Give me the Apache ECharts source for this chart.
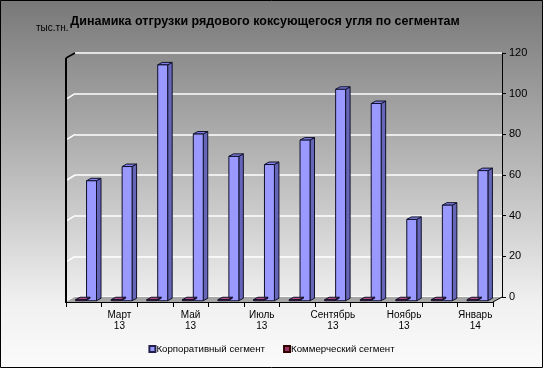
<!DOCTYPE html>
<html><head><meta charset="utf-8">
<script src="https://cdn.jsdelivr.net/npm/echarts@6/dist/echarts.min.js"></script>
<style>html,body{margin:0;padding:0;background:#fff}#c{width:543px;height:368px}</style>
</head><body><div id="c"></div>
<script>
const categories = ['Февраль 13','Март 13','Апрель 13','Май 13','Июнь 13','Июль 13','Август 13','Сентябрь 13','Октябрь 13','Ноябрь 13','Декабрь 13','Январь 14'];
const corporate = [59, 66, 116, 82, 71, 67, 79, 104, 97, 40, 47, 64];
const commercial = [0.5, 0.5, 0.5, 0.5, 0.5, 0.5, 0.5, 0.5, 0.5, 0.5, 0.5, 0.5];
const seriesNames = ['Корпоративный сегмент', 'Коммерческий сегмент'];
const yTicks = [0, 20, 40, 60, 80, 100, 120];

const W = 543, H = 368;
const BL = 75, BR = 502, BT = 53, BB = 297;   // back wall
const DX = 9, DY = -5;                        // back relative to front
const FL = BL - DX, FR = BR - DX, FT = BT - DY, FB = BB - DY;

function renderBar(side, cols) {
  return function (params, api) {
    const i = api.value(0), v = api.value(1);
    const pb = api.coord([i, 0]);
    const pt = api.coord([i, v]);
    const band = api.size([1, 0])[0];
    const w = band * 0.28;
    const sx = -DX * 0.75, sy = -DY * 0.75;
    const c = pb[0] + sx;
    let x1, x2;
    if (side < 0) { x2 = c - 0.5; x1 = x2 - w; } else { x1 = c + 0.5; x2 = x1 + w; }
    const yb = pb[1] + sy, yt = Math.min(pt[1] + sy, yb - 1);
    const ox = DX * 0.5, oy = DY * 0.5;
    const st = { stroke: '#10102a', lineWidth: 1 };
    return {
      type: 'group',
      children: [
        { type: 'polygon', shape: { points: [[x2, yt], [x2 + ox, yt + oy], [x2 + ox, yb + oy], [x2, yb]] },
          style: Object.assign({ fill: cols[1] }, st) },
        { type: 'polygon', shape: { points: [[x1, yt], [x1 + ox, yt + oy], [x2 + ox, yt + oy], [x2, yt]] },
          style: Object.assign({ fill: cols[2] }, st) },
        { type: 'rect', shape: { x: x1, y: yt, width: x2 - x1, height: yb - yt },
          style: Object.assign({ fill: cols[0] }, st) }
      ]
    };
  };
}

const graphics = [];
graphics.push({ type: 'rect', z: -100, shape: { x: 0, y: 0, width: W, height: H },
  style: { fill: { type: 'linear', x: 0, y: 0, x2: 0, y2: 1, colorStops: [
    { offset: 0, color: '#787878' }, { offset: 0.45, color: '#b8b8b8' }, { offset: 0.82, color: '#f0f0f0' }, { offset: 1, color: '#fbfbfb' }] } } });
// floor
graphics.push({ type: 'polygon', z: 1, shape: { points: [[BL, BB], [BR, BB], [FR, FB], [FL, FB]] },
  style: { fill: '#a6a6a6' } });
graphics.push({ type: 'line', z: 3, shape: { x1: BR, y1: BB, x2: FR, y2: FB }, style: { stroke: '#000', lineWidth: 1 } });
// left wall gridline diagonals
const yPix = v => BB - (BB - BT) * v / 120;
yTicks.forEach(v => {
  if (v === 0 || v === 120) return;
  graphics.push({ type: 'line', z: 1, shape: { x1: BL, y1: yPix(v), x2: FL + 1, y2: yPix(v) - DY },
    style: { stroke: '#ffffff', lineWidth: 1.5 } });
});
graphics.push({ type: 'line', z: 3, shape: { x1: FL, y1: FT, x2: FL, y2: FB + 1 }, style: { stroke: '#000', lineWidth: 2 } });
graphics.push({ type: 'line', z: 3, shape: { x1: FL, y1: FT, x2: BL, y2: BT }, style: { stroke: '#000', lineWidth: 1.5 } });
graphics.push({ type: 'text', z: 5, left: 36, top: 23, style: { text: 'тыс.тн.', fontSize: 10, fontFamily: 'Liberation Sans, Arial', fill: '#000' } });
graphics.push({ type: 'rect', z: 50, shape: { x: 0.5, y: 0.5, width: W - 1, height: H - 1 }, style: { fill: 'none', stroke: '#000', lineWidth: 1 } });

const chart = echarts.init(document.getElementById('c'), null, { renderer: 'canvas' });
chart.setOption({
  animation: false,
  title: { text: 'Динамика отгрузки рядового коксующегося угля по сегментам', left: 260, textAlign: 'center', top: 10,
    textStyle: { fontSize: 12.5, fontWeight: 'bold', fontFamily: 'Liberation Sans, Arial', color: '#000' } },
  graphic: graphics,
  legend: { bottom: 9, left: 'center', itemWidth: 6, itemHeight: 6, itemGap: 18, icon: 'rect',
    textStyle: { fontSize: 9.7, fontFamily: 'Liberation Sans, Arial', color: '#000', padding: [0, 0, 0, -4] },
    data: seriesNames },
  grid: [
    { left: BL, right: W - BR, top: BT, bottom: H - BB },
    { left: FL, right: W - FR, top: FT, bottom: H - FB }
  ],
  xAxis: [
    { type: 'category', gridIndex: 0, data: categories, boundaryGap: true, show: false },
    { type: 'category', gridIndex: 1, data: categories, boundaryGap: true,
      axisLine: { show: true, lineStyle: { color: '#000', width: 1 } },
      axisTick: { show: true, length: 5, lineStyle: { color: '#000' }, interval: 0 },
      axisLabel: { interval: 0, margin: 8, fontSize: 10, lineHeight: 11, fontFamily: 'Liberation Sans, Arial', color: '#000',
        formatter: (val, idx) => idx % 2 === 1 ? val.replace(' ', '\n') : '' } }
  ],
  yAxis: [
    { type: 'value', gridIndex: 0, min: 0, max: 120, interval: 20, position: 'right',
      axisLine: { show: true, lineStyle: { color: '#000', width: 1 } },
      axisTick: { show: true, length: 4, lineStyle: { color: '#000' } },
      axisLabel: { margin: 7, fontSize: 11, fontFamily: 'Liberation Sans, Arial', color: '#000' },
      splitLine: { show: true, lineStyle: { color: '#ffffff', width: 1.5 } } },
    { type: 'value', gridIndex: 1, min: 0, max: 120, interval: 20, show: false, splitLine: { show: false } }
  ],
  series: [
    { name: seriesNames[0], type: 'custom', xAxisIndex: 0, yAxisIndex: 0, z: 4,
      itemStyle: { color: '#9999ff', borderColor: '#20204a', borderWidth: 0.5 },
      renderItem: renderBar(1, ['#9999ff', '#6666b8', '#8080e6']),
      encode: { x: 0, y: 1 },
      data: corporate.map((v, i) => [i, v]) },
    { name: seriesNames[1], type: 'custom', xAxisIndex: 0, yAxisIndex: 0, z: 4,
      itemStyle: { color: '#993366', borderColor: '#300', borderWidth: 0.5 },
      renderItem: renderBar(-1, ['#993366', '#6a2246', '#b04a80']),
      encode: { x: 0, y: 1 },
      data: commercial.map((v, i) => [i, v]) }
  ]
});
</script></body></html>
